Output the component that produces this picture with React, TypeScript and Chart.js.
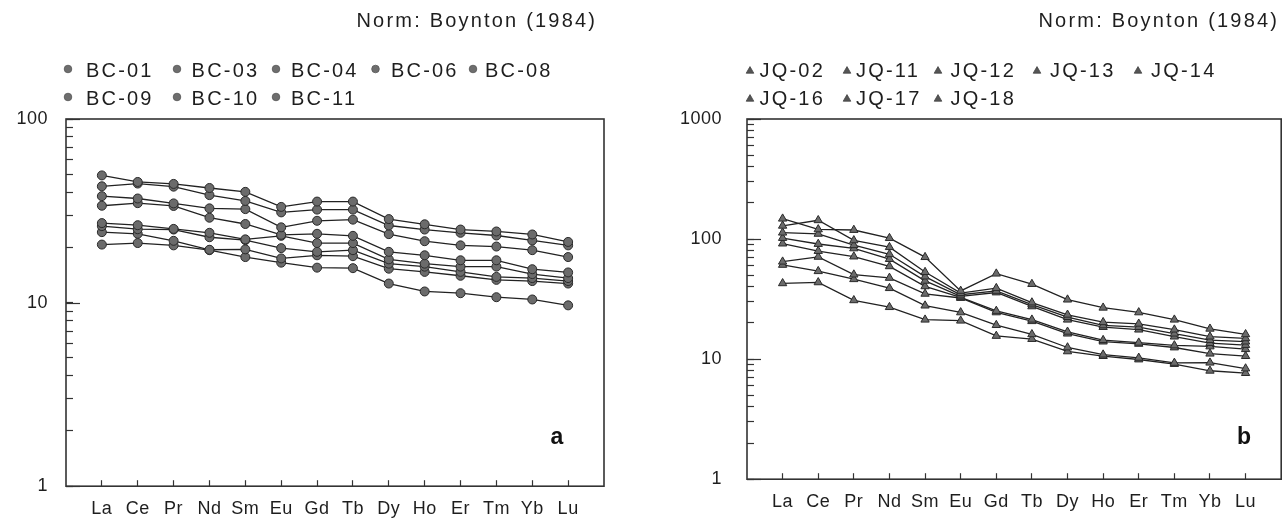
import React, { useEffect, useRef } from "react";
import { Chart, registerables } from "chart.js";

Chart.register(...registerables);

// ---------- data ----------
const elements = ["La", "Ce", "Pr", "Nd", "Sm", "Eu", "Gd", "Tb", "Dy", "Ho", "Er", "Tm", "Yb", "Lu"];

const bcNames = ["BC-01", "BC-03", "BC-04", "BC-06", "BC-08", "BC-09", "BC-10", "BC-11"];
const bc01 = [49.3, 45.4, 44.3, 42.1, 40.1, 33.2, 35.5, 35.5, 28.5, 26.7, 25.0, 24.4, 23.5, 21.4];
const bc03 = [43.0, 44.5, 42.8, 38.5, 35.8, 31.0, 32.1, 32.1, 26.3, 25.0, 24.0, 23.2, 21.8, 20.5];
const bc04 = [38.0, 36.9, 34.7, 32.6, 32.3, 25.7, 27.9, 28.3, 23.6, 21.6, 20.5, 20.2, 19.3, 17.7];
const bc06 = [33.7, 34.8, 33.6, 29.0, 26.8, 23.4, 23.7, 23.1, 18.9, 18.1, 17.0, 17.0, 15.2, 14.6];
const bc08 = [27.1, 26.4, 25.2, 24.0, 22.1, 23.1, 21.1, 21.1, 17.2, 16.3, 15.7, 15.7, 14.3, 13.6];
const bc09 = [26.1, 25.1, 25.0, 22.7, 21.9, 19.8, 18.9, 19.3, 16.3, 15.7, 14.7, 13.8, 13.6, 13.1];
const bc10 = [24.2, 23.7, 21.7, 19.4, 19.5, 17.4, 18.1, 17.9, 15.3, 14.7, 14.0, 13.3, 13.1, 12.7];
const bc11 = [20.7, 21.1, 20.5, 19.3, 17.7, 16.5, 15.5, 15.4, 12.7, 11.5, 11.25, 10.7, 10.4, 9.66];
const bcSeries = [bc01, bc03, bc04, bc06, bc08, bc09, bc10, bc11];

const jqNames = ["JQ-02", "JQ-11", "JQ-12", "JQ-13", "JQ-14", "JQ-16", "JQ-17", "JQ-18"];
const jq02 = [147.8, 120.4, 119.0, 101.8, 70.7, 37.0, 51.5, 42.2, 31.3, 26.8, 24.5, 21.3, 17.9, 16.1];
const jq11 = [129.0, 143.4, 97.5, 85.6, 53.1, 35.5, 39.0, 29.6, 23.4, 20.3, 19.7, 17.6, 15.4, 14.9];
const jq12 = [113.0, 110.5, 88.9, 74.7, 48.7, 34.4, 37.0, 28.5, 22.4, 19.1, 18.5, 16.3, 14.4, 14.0];
const jq13 = [102.0, 91.0, 83.6, 68.1, 44.9, 33.3, 35.9, 27.5, 21.3, 18.5, 17.6, 15.4, 13.6, 13.1];
const jq14 = [91.7, 79.5, 71.5, 59.3, 40.4, 32.7, 25.2, 21.3, 16.9, 14.4, 13.7, 13.0, 12.75, 12.1];
const jq16 = [64.8, 71.1, 50.6, 47.5, 35.0, 32.3, 24.5, 20.7, 16.3, 14.0, 13.4, 12.5, 11.1, 10.6];
const jq17 = [60.9, 54.0, 46.3, 39.0, 27.9, 24.5, 19.2, 16.1, 12.5, 10.9, 10.25, 9.3, 9.34, 8.35];
const jq18 = [42.8, 43.6, 30.9, 27.1, 21.3, 20.9, 15.6, 14.7, 11.6, 10.6, 9.93, 9.1, 8.0, 7.65];
const jqSeries = [jq02, jq11, jq12, jq13, jq14, jq16, jq17, jq18];

const leftYLabels = [1, 10, 100];
const rightYLabels = [1, 10, 100, 1000];
const titleText = "Norm: Boynton (1984)";

// ---------- styling ----------
const FONT = "'Liberation Sans', Arial, sans-serif";
const LINE = "#222";
const FILL = "#6b6b6b";
const TEXT = "#1e1e1e";

function logTickValues(max: number): number[] {
  const vals: number[] = [];
  for (let d = 1; d < max; d *= 10) for (let m = 1; m < 10; m++) vals.push(m * d);
  vals.push(max);
  return vals;
}

type PanelCfg = {
  names: string[];
  series: number[][];
  pointStyle: "circle" | "triangle";
  pointRadius: number;
  yMax: number;
  yLabels: number[];
  width: number;
  yAxisWidth: number;
  rightPad: number;
  yLabelPad: number;
  titleRight: number;
  legendMarkerX: number[];
  legendTextX: number[];
  letter: string;
  letterX: number;
};

function drawMarker(ctx: CanvasRenderingContext2D, style: string, x: number, y: number, r: number) {
  ctx.beginPath();
  if (style === "circle") {
    ctx.arc(x, y, r, 0, Math.PI * 2);
  } else {
    for (let k = 0; k < 3; k++) {
      const a = (k * 2 * Math.PI) / 3;
      const px = x + Math.sin(a) * r;
      const py = y - Math.cos(a) * r;
      if (k === 0) ctx.moveTo(px, py);
      else ctx.lineTo(px, py);
    }
    ctx.closePath();
  }
  ctx.fill();
  ctx.stroke();
}

function makeDecor(cfg: PanelCfg) {
  return {
    id: "decor",
    beforeDraw(chart: any) {
      chart.ctx.letterSpacing = "0.5px";
    },
    afterDraw(chart: any) {
      const ctx: CanvasRenderingContext2D = chart.ctx;
      const ca = chart.chartArea;
      const ys = chart.scales.y;
      ctx.save();
      (ctx as any).letterSpacing = "0px";
      // long ticks for decades
      ctx.strokeStyle = "#333";
      ctx.lineWidth = 1.2;
      for (const t of ys.ticks) {
        if (cfg.yLabels.includes(t.value)) {
          const py = Math.round(ys.getPixelForValue(t.value)) + 0.5;
          ctx.beginPath();
          ctx.moveTo(ca.left, py);
          ctx.lineTo(ca.left + 14, py);
          ctx.stroke();
        }
      }
      // frame
      ctx.lineWidth = 1.6;
      ctx.strokeStyle = "#333";
      ctx.strokeRect(ca.left, ca.top, ca.right - ca.left, ca.bottom - ca.top);

      // title
      ctx.fillStyle = TEXT;
      ctx.font = `20px ${FONT}`;
      (ctx as any).letterSpacing = "2.2px";
      ctx.textBaseline = "middle";
      ctx.textAlign = "right";
      ctx.fillText(titleText, cfg.titleRight + 2.2, 21);

      // legend
      ctx.textAlign = "left";
      const rows = [71, 99];
      cfg.names.forEach((name, i) => {
        const row = Math.floor(i / 5);
        const col = i % 5;
        const ty = rows[row];
        ctx.save();
        (ctx as any).letterSpacing = "0px";
        ctx.fillStyle = cfg.pointStyle === "circle" ? "#6e6e6e" : "#555";
        ctx.strokeStyle = cfg.pointStyle === "circle" ? "#555" : "#444";
        ctx.lineWidth = 0.8;
        if (cfg.pointStyle === "circle") drawMarker(ctx, "circle", cfg.legendMarkerX[col], ty - 2, 3.8);
        else drawMarker(ctx, "triangle", cfg.legendMarkerX[col], ty, 4.4);
        ctx.restore();
        ctx.fillStyle = TEXT;
        ctx.fillText(name, cfg.legendTextX[col], ty);
      });

      // panel letter
      (ctx as any).letterSpacing = "0px";
      ctx.font = `bold 23px ${FONT}`;
      ctx.textAlign = "center";
      ctx.textBaseline = "alphabetic";
      ctx.fillStyle = "#111";
      ctx.fillText(cfg.letter, cfg.letterX, 444);
      ctx.restore();
    },
  };
}

function buildChart(canvas: HTMLCanvasElement, cfg: PanelCfg) {
  const datasets = cfg.series.map((vals, i) => ({
    label: cfg.names[i],
    data: vals.map((v, j) => ({ x: j, y: v })),
    borderColor: LINE,
    borderWidth: 1.3,
    pointStyle: cfg.pointStyle,
    pointRadius: cfg.pointRadius,
    pointBackgroundColor: FILL,
    pointBorderColor: "#2a2a2a",
    pointBorderWidth: 1,
    fill: false,
    tension: 0,
  }));

  const yTicks = logTickValues(cfg.yMax);

  return new Chart(canvas, {
    type: "line",
    data: { datasets },
    options: {
      animation: false,
      responsive: false,
      maintainAspectRatio: false,
      layout: { padding: { top: 119, right: cfg.rightPad, bottom: 0, left: 0 } },
      plugins: { legend: { display: false }, tooltip: { enabled: false } },
      scales: {
        x: {
          type: "linear",
          min: -1,
          max: 14,
          afterBuildTicks: (scale: any) => {
            scale.ticks = elements.map((_, i) => ({ value: i }));
          },
          afterFit: (scale: any) => {
            scale.height = 32;
          },
          border: { display: false },
          grid: {
            drawOnChartArea: false,
            drawTicks: true,
            tickLength: -6,
            tickColor: "#333",
            tickWidth: 1.2,
          },
          ticks: {
            autoSkip: false,
            maxRotation: 0,
            padding: 18,
            color: TEXT,
            font: { family: FONT, size: 18 },
            callback: (v: any) => elements[Number(v)] ?? "",
          },
        },
        y: {
          type: "logarithmic",
          min: 1,
          max: cfg.yMax,
          afterBuildTicks: (scale: any) => {
            scale.ticks = yTicks.map((v) => ({ value: v }));
          },
          afterFit: (scale: any) => {
            scale.width = cfg.yAxisWidth;
          },
          border: { display: false },
          grid: {
            drawOnChartArea: false,
            drawTicks: true,
            tickLength: -7,
            tickColor: "#333",
            tickWidth: 1.2,
          },
          ticks: {
            autoSkip: false,
            padding: cfg.yLabelPad,
            color: TEXT,
            font: { family: FONT, size: 18 },
            callback: (v: any) => (cfg.yLabels.includes(Number(v)) ? String(v) : ""),
          },
        },
      },
    },
    plugins: [makeDecor(cfg)],
  } as any);
}

const leftCfg: PanelCfg = {
  names: bcNames,
  series: bcSeries,
  pointStyle: "circle",
  pointRadius: 4.5,
  yMax: 100,
  yLabels: leftYLabels,
  width: 640,
  yAxisWidth: 66,
  rightPad: 36,
  yLabelPad: 25,
  titleRight: 595,
  legendMarkerX: [68, 177, 276, 375.5, 473],
  legendTextX: [86, 191.6, 291, 391, 485],
  letter: "a",
  letterX: 557,
};

const rightCfg: PanelCfg = {
  names: jqNames,
  series: jqSeries,
  pointStyle: "triangle",
  pointRadius: 4.8,
  yMax: 1000,
  yLabels: rightYLabels,
  width: 647,
  yAxisWidth: 107,
  rightPad: 1,
  yLabelPad: 32,
  titleRight: 637,
  legendMarkerX: [110, 207, 298, 397, 498],
  legendTextX: [119.5, 216, 310.5, 410, 511],
  letter: "b",
  letterX: 604,
};

function Panel({ cfg, left }: { cfg: PanelCfg; left: number }) {
  const ref = useRef<HTMLCanvasElement | null>(null);
  useEffect(() => {
    if (!ref.current) return;
    const chart = buildChart(ref.current, cfg);
    return () => chart.destroy();
  }, [cfg]);
  return (
    <canvas
      ref={ref}
      width={cfg.width}
      height={522}
      style={{ position: "absolute", left, top: 0, width: cfg.width, height: 522 }}
    />
  );
}

export default function App() {
  return (
    <div
      style={{
        position: "absolute",
        left: 0,
        top: 0,
        width: 1287,
        height: 522,
        background: "#fff",
        overflow: "hidden",
      }}
    >
      <Panel cfg={leftCfg} left={0} />
      <Panel cfg={rightCfg} left={640} />
    </div>
  );
}
